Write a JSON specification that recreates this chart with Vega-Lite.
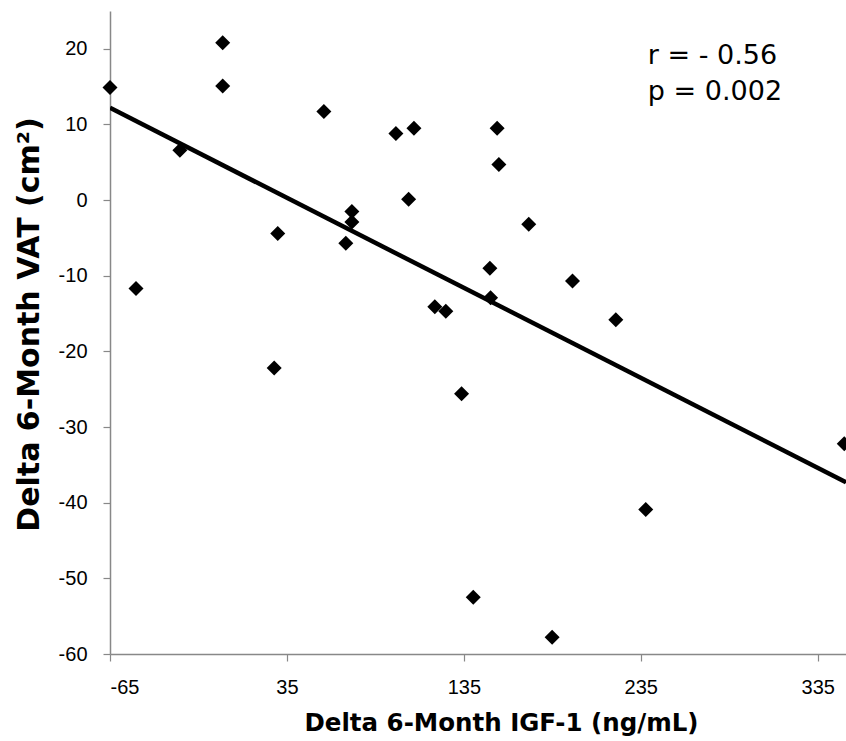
{
  "$schema": "https://vega.github.io/schema/vega-lite/v6.json",
  "autosize": {"type": "none"},
  "padding": {"left": 110, "top": 11, "right": 0, "bottom": 87},
  "width": 736,
  "height": 643,
  "config": {
    "view": {"stroke": null},
    "font": "Liberation Sans",
    "axis": {
      "grid": false,
      "domainColor": "#888888",
      "domainWidth": 1.5,
      "tickColor": "#888888",
      "tickWidth": 1.2,
      "tickSize": 7,
      "labelFont": "Liberation Sans",
      "labelFontSize": 20,
      "labelColor": "#000000",
      "titleFont": "DejaVu Sans",
      "titleFontWeight": "bold",
      "titleColor": "#000000"
    }
  },
  "layer": [
    {
      "data": {
        "values": [
          {"igf": -65.0, "vat": 14.9},
          {"igf": -50.3, "vat": -11.7},
          {"igf": -25.5, "vat": 6.6},
          {"igf": -1.3, "vat": 20.8},
          {"igf": -1.3, "vat": 15.1},
          {"igf": 29.8, "vat": -4.4},
          {"igf": 27.8, "vat": -22.2},
          {"igf": 55.9, "vat": 11.7},
          {"igf": 68.3, "vat": -5.7},
          {"igf": 71.7, "vat": -2.9},
          {"igf": 71.7, "vat": -1.5},
          {"igf": 96.6, "vat": 8.8},
          {"igf": 106.8, "vat": 9.5},
          {"igf": 103.8, "vat": 0.1},
          {"igf": 118.6, "vat": -14.1},
          {"igf": 124.8, "vat": -14.7},
          {"igf": 133.7, "vat": -25.6},
          {"igf": 140.3, "vat": -52.5},
          {"igf": 149.7, "vat": -9.0},
          {"igf": 150.1, "vat": -12.9},
          {"igf": 153.8, "vat": 9.5},
          {"igf": 154.8, "vat": 4.7},
          {"igf": 171.7, "vat": -3.2},
          {"igf": 184.9, "vat": -57.8},
          {"igf": 196.4, "vat": -10.7},
          {"igf": 220.9, "vat": -15.8},
          {"igf": 237.8, "vat": -40.9},
          {"igf": 350.0, "vat": -32.2}
        ]
      },
      "mark": {"type": "point", "shape": "diamond", "filled": true, "color": "#000000", "size": 225, "opacity": 1, "clip": false},
      "encoding": {
        "x": {
          "field": "igf", "type": "quantitative",
          "scale": {"domain": [-65, 351], "nice": false, "zero": false},
          "axis": {
            "title": "Delta 6-Month IGF-1 (ng/mL)",
            "values": [-65, 35, 135, 235, 335],
            "labelExpr": "toString(datum.value)",
            "labelPadding": 16,
            "titleFontSize": 24.5,
            "titleX": 391,
            "titleY": 76,
            "titleAlign": "center",
            "titleAnchor": null,
            "titleBaseline": "alphabetic"
          }
        },
        "y": {
          "field": "vat", "type": "quantitative",
          "scale": {"domain": [-60, 25], "nice": false, "zero": false},
          "axis": {
            "title": "Delta 6-Month VAT (cm²)",
            "values": [-60, -50, -40, -30, -20, -10, 0, 10, 20],
            "labelExpr": "toString(datum.value)",
            "labelPadding": 16,
            "titleFontSize": 30,
            "titleX": -72,
            "titleY": 313,
            "titleAlign": "center",
            "titleAnchor": null,
            "titleBaseline": "alphabetic"
          }
        }
      }
    },
    {
      "data": {"values": [{"igf": -65, "vat": 12.2}, {"igf": 351, "vat": -37.3}]},
      "mark": {"type": "line", "color": "#000000", "strokeWidth": 4.5, "clip": true},
      "encoding": {
        "x": {"field": "igf", "type": "quantitative"},
        "y": {"field": "vat", "type": "quantitative"}
      }
    },
    {
      "data": {"values": [{"igf": 239, "vat": 18.0, "label": "r = - 0.56"}, {"igf": 239, "vat": 13.2, "label": "p = 0.002"}]},
      "mark": {"type": "text", "align": "left", "baseline": "alphabetic", "fontSize": 27, "font": "DejaVu Sans", "color": "#000000"},
      "encoding": {
        "x": {"field": "igf", "type": "quantitative"},
        "y": {"field": "vat", "type": "quantitative"},
        "text": {"field": "label"}
      }
    }
  ]
}
